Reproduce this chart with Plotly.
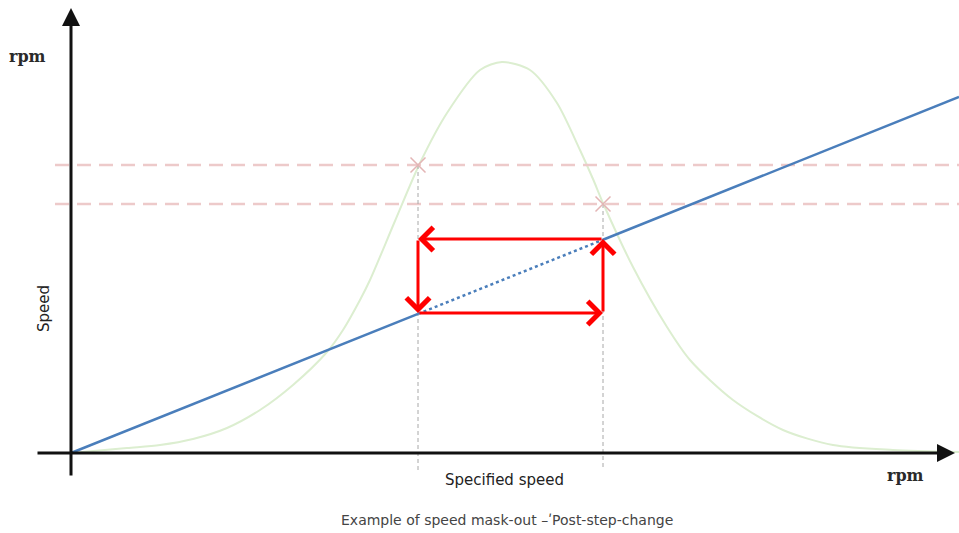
import plotly.graph_objects as go

# schematic units: origin of the speed axes at (0, 0)
curve_x = [0, 56, 89, 122, 156, 189, 222, 256, 272, 289, 299, 324, 349, 376, 409, 431,
           459, 486, 509, 522, 532, 562, 596, 619, 662, 712, 762, 822, 888]
curve_y = [0, 5, 8, 14, 25, 43, 68, 101, 123, 153, 173, 232, 290, 340, 383, 391,
           383, 350, 303, 274, 250, 186, 126, 93, 53, 23, 8, 3, 1]

line_x = [0, 888]
line_y = [0, 356]

speed_low = 347
speed_high = 532
level_low = 140
level_high = 214
mask_low = 288
mask_high = 249

fig = go.Figure()

# bell-shaped resonance curve
fig.add_trace(go.Scatter(
    x=curve_x, y=curve_y, mode='lines', line_shape='spline',
    line=dict(color='#DCEED0', width=2, smoothing=0.8), hoverinfo='skip'
))

# mask-out limit lines
for lvl in [mask_low, mask_high]:
    fig.add_trace(go.Scatter(
        x=[-16, 888], y=[lvl, lvl], mode='lines',
        line=dict(color='#EDCACA', width=2.5, dash='14px,8px'), hoverinfo='skip'
    ))

# vertical guides
for sx, top in [(speed_low, mask_low), (speed_high, mask_high)]:
    fig.add_trace(go.Scatter(
        x=[sx, sx], y=[top, -17], mode='lines',
        line=dict(color='#A8A8A8', width=1, dash='4px,3px'), hoverinfo='skip'
    ))

# speed line
slope = line_y[1] / line_x[1]
fig.add_trace(go.Scatter(
    x=[line_x[0], speed_low], y=[line_y[0], slope * speed_low], mode='lines',
    line=dict(color='#4A7EBB', width=2.5), hoverinfo='skip'
))
fig.add_trace(go.Scatter(
    x=[speed_low, speed_high], y=[slope * speed_low, slope * speed_high], mode='lines',
    line=dict(color='#4A7EBB', width=2.5, dash='dot'), hoverinfo='skip'
))
fig.add_trace(go.Scatter(
    x=[speed_high, line_x[1]], y=[slope * speed_high, line_y[1]], mode='lines',
    line=dict(color='#4A7EBB', width=2.5), hoverinfo='skip'
))

# crossing markers
fig.add_trace(go.Scatter(
    x=[speed_low, speed_high], y=[mask_low, mask_high], mode='markers',
    marker=dict(symbol='x-thin', size=15, line=dict(color='#E3B5B5', width=1.5)),
    hoverinfo='skip'
))

arrows = [
    (speed_high, level_low, speed_low, level_low),
    (speed_high, level_high, speed_high, level_low),
    (speed_low, level_high, speed_high, level_high),
    (speed_low, level_low, speed_low, level_high),
]
for hx, hy, tx, ty in arrows:
    fig.add_annotation(
        x=hx, y=hy, ax=tx, ay=ty, xref='x', yref='y', axref='x', ayref='y',
        text='', showarrow=True, arrowhead=4, arrowsize=1.5, arrowwidth=3,
        arrowcolor='#FF0000'
    )

# axes with arrowheads
fig.add_annotation(x=884, y=0, ax=-35, ay=0, xref='x', yref='y', axref='x', ayref='y',
                   text='', showarrow=True, arrowhead=2, arrowsize=1.2, arrowwidth=3,
                   arrowcolor='#111111')
fig.add_annotation(x=0, y=445, ax=0, ay=-24, xref='x', yref='y', axref='x', ayref='y',
                   text='', showarrow=True, arrowhead=2, arrowsize=1.2, arrowwidth=3,
                   arrowcolor='#111111')

serif = dict(family='DejaVu Serif', size=16, color='#2A2A2A')
sans = dict(family='DejaVu Sans', size=15, color='#222222')
fig.add_annotation(x=-44, y=397, text='<b>rpm</b>', showarrow=False, font=serif)
fig.add_annotation(x=834, y=-22, text='<b>rpm</b>', showarrow=False, font=serif)
fig.add_annotation(x=-27, y=144, text='Speed', showarrow=False, textangle=-90, font=sans)
fig.add_annotation(x=433, y=-27, text='Specified speed', showarrow=False, font=sans)
fig.add_annotation(x=436, y=-67, text='Example of speed mask-out –ʹPost-step-change',
                   showarrow=False, font=dict(family='DejaVu Sans', size=14, color='#444444'))

fig.update_layout(
    width=959, height=533,
    margin=dict(l=0, r=0, t=0, b=0),
    paper_bgcolor='white', plot_bgcolor='white',
    showlegend=False,
    xaxis=dict(range=[-71, 888], visible=False, fixedrange=True),
    yaxis=dict(range=[-80, 453], visible=False, fixedrange=True),
)
fig.write_html("out.html", config={'displayModeBar': False},
               post_script="document.body.style.margin='0';")
